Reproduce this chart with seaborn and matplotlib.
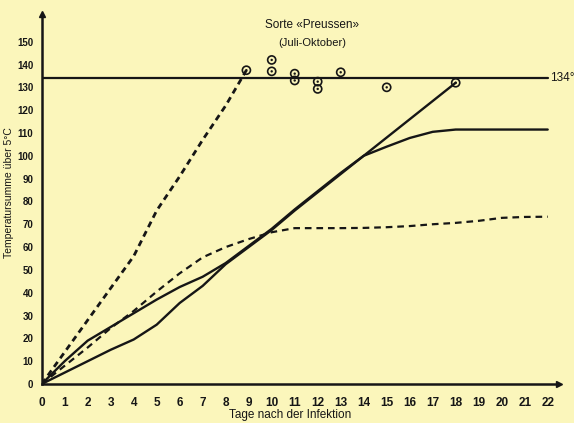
import matplotlib
matplotlib.use("Agg")
import matplotlib.pyplot as plt
import seaborn as sns
import pandas as pd

# --- data -------------------------------------------------------------
days = list(range(23))

steep_days = [0, 1, 2, 3, 4, 5, 6, 7, 8, 8.9]
steep_vals = [0, 14, 28, 42, 56, 76, 91, 107, 122, 137.5]

dashed_low = [0, 8, 16, 24.5, 32, 40.5, 48.5, 55.5, 60, 63.5, 66.5, 68.3,
              68.3, 68.3, 68.4, 68.7, 69.2, 70, 70.6, 71.5, 72.8, 73.2, 73.3]

solid_a = [0, 10, 19, 25, 31, 37, 42.5, 47, 53, 60.5, 68, 76.5, 84.5, 92.5,
           100, 104, 107.8, 110.5, 111.5, 111.5, 111.5, 111.5, 111.5]

solid_b_days = list(range(19))
solid_b = [0, 5, 10, 15, 19.5, 26, 35.5, 43, 52.5, 60, 67.5, 76, 84, 92,
           100, 108, 116, 124, 132]

obs_days = [8.9, 10, 10, 11, 11, 12, 12, 13, 15, 18]
obs_vals = [137.5, 142, 137, 136, 133, 132.5, 129.3, 136.6, 130, 132]

threshold = 134
y_ticks = list(range(0, 151, 10))

# --- styling ----------------------------------------------------------
paper = "#FBF6BB"
ink = "#161616"
sns.set_style("white", {"axes.facecolor": paper, "figure.facecolor": paper})
plt.rcParams["font.family"] = ["Liberation Sans", "DejaVu Sans"]

fig = plt.figure(figsize=(5.74, 4.23), dpi=100)
ax = fig.add_axes([41.7 / 574, 39 / 423, 517.5 / 574, 369.7 / 423])
ax.set_facecolor(paper)

# --- curves -----------------------------------------------------------
sns.lineplot(x=steep_days, y=steep_vals, ax=ax, color=ink, linewidth=2.0,
             linestyle=(0, (2.2, 1.6)))
sns.lineplot(x=days, y=dashed_low, ax=ax, color=ink, linewidth=1.6,
             linestyle=(0, (3, 2.2)))
sns.lineplot(x=days, y=solid_a, ax=ax, color=ink, linewidth=1.7)
sns.lineplot(x=solid_b_days, y=solid_b, ax=ax, color=ink, linewidth=1.7)

# threshold line
sns.lineplot(x=[0, 22], y=[threshold, threshold], ax=ax, color=ink,
             linewidth=1.6)
ax.text(22.1, threshold, "134°", ha="left", va="center", fontsize=8.5,
        color=ink)

# observation circles with centre dots
sns.scatterplot(x=obs_days, y=obs_vals, ax=ax, s=34, facecolor="none",
                edgecolor=ink, linewidth=1.2, zorder=5)
sns.scatterplot(x=obs_days, y=obs_vals, ax=ax, s=3, color=ink,
                edgecolor="none", zorder=6)

# --- axes -------------------------------------------------------------
ax.set_xlim(0, 22.5)
ax.set_ylim(0, 162)
sns.despine(ax=ax)
for side in ("left", "bottom"):
    ax.spines[side].set_linewidth(1.8)
    ax.spines[side].set_color(ink)

ax.plot(1, 0, marker=">", color=ink, markersize=5, transform=ax.transAxes,
        clip_on=False)
ax.plot(0, 1, marker="^", color=ink, markersize=5, transform=ax.transAxes,
        clip_on=False)

ax.set_xticks(days)
ax.set_xticklabels([str(d) for d in days], fontsize=8.5, fontweight="bold",
                   color=ink)
ax.tick_params(axis="x", direction="in", length=4, width=1.2, pad=9,
               colors=ink)

ax.set_yticks(y_ticks)
ax.set_yticklabels([str(v) for v in y_ticks], fontsize=7, fontweight="bold",
                   color=ink)
ax.tick_params(axis="y", direction="out", length=3, width=1.2, pad=3,
               colors=ink)
for t, v in zip(ax.yaxis.get_major_ticks(), y_ticks):
    if v in (50, 100, 150):
        t.tick1line.set_markersize(6)

ax.set_xlabel("")
ax.set_ylabel("")

# --- titles and axis labels --------------------------------------------
ax.text(11.75, 157.3, "Sorte «Preussen»", ha="center", va="center",
        fontsize=8.5, color=ink)
ax.text(11.75, 149.4, "(Juli-Oktober)", ha="center", va="center",
        fontsize=8, color=ink)
fig.text(290 / 574, 1 - 415 / 423, "Tage nach der Infektion", ha="center",
         va="center", fontsize=8.5, color=ink)
fig.text(9 / 574, 1 - 193 / 423, "Temperatursumme über 5°C", ha="center",
         va="center", rotation=90, fontsize=7.5, color=ink)

fig.savefig("out.png", dpi=100, facecolor=paper)
